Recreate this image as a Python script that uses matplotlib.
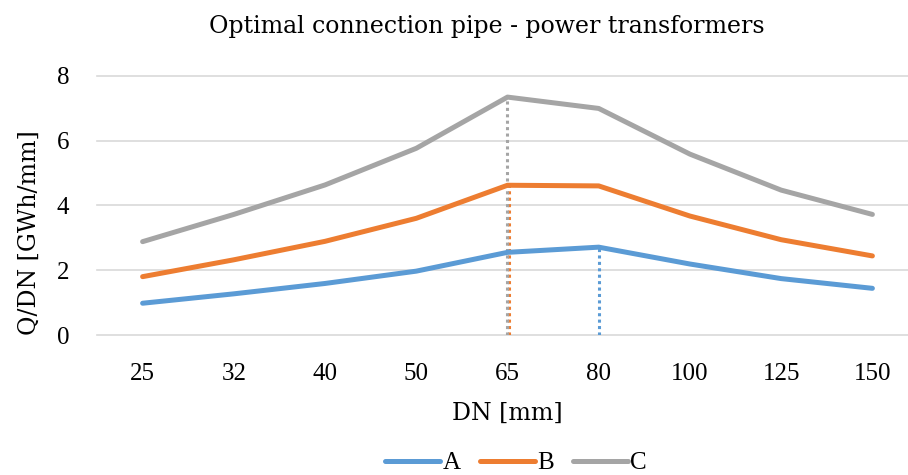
import matplotlib
matplotlib.use("Agg")
import matplotlib.pyplot as plt
import matplotlib.transforms as mtransforms
import numpy as np

categories = ["25", "32", "40", "50", "65", "80", "100", "125", "150"]
series_A = [0.98, 1.27, 1.59, 1.97, 2.55, 2.71, 2.19, 1.74, 1.44]
series_B = [1.80, 2.32, 2.89, 3.60, 4.62, 4.60, 3.67, 2.94, 2.44]
series_C = [2.88, 3.72, 4.63, 5.76, 7.34, 6.99, 5.58, 4.47, 3.72]
series_names = ["A", "B", "C"]
colors = ["#5B9BD5", "#ED7D31", "#A5A5A5"]

plt.rcParams['font.family'] = ['Liberation Serif', 'DejaVu Serif']
label_font = ['DejaVu Serif']

fig = plt.figure(figsize=(9.08, 4.75), dpi=100)
ax = fig.add_axes([97/908, (475-335)/475, (918-97)/908, (335-75.7)/475])

x = np.arange(len(categories))
all_series = [series_A, series_B, series_C]

for yv in [0, 2, 4, 6, 8]:
    ax.axhline(yv, color="#D9D9D9", lw=1.2, zorder=0, clip_on=False)

offsets_px = [0, 1.0, -1.0]
for s, c, off in zip(all_series, colors, offsets_px):
    idx = int(np.argmax(s))
    tr = ax.transData + mtransforms.ScaledTranslation(off/100, 0, fig.dpi_scale_trans)
    ax.plot([x[idx], x[idx]], [0, s[idx]], color=c, lw=2.2,
            linestyle=(0, (1, 1.1)), dash_capstyle='butt', transform=tr, zorder=2)

handles = []
for s, c, n in zip(all_series, colors, series_names):
    h, = ax.plot(x, s, color=c, lw=3.6, solid_capstyle='round',
                 solid_joinstyle='round', label=n, zorder=3)
    handles.append(h)

ax.set_xlim(-0.5, len(categories) - 0.5)
ax.set_ylim(0, 8)
ax.set_yticks([0, 2, 4, 6, 8])
ax.set_xticks(x)
ax.set_xticklabels(categories)
ax.tick_params(axis='both', length=0, labelsize=18, colors='black')
ax.tick_params(axis='x', pad=20)
ax.tick_params(axis='y', pad=20)
for lbl in ax.get_xticklabels() + ax.get_yticklabels():
    lbl.set_family('Liberation Serif')
for sp in ax.spines.values():
    sp.set_visible(False)

ax.set_xlabel("DN [mm]", fontsize=17, labelpad=12, family=label_font)
ax.set_ylabel("Q/DN [GWh/mm]", fontsize=17, family=label_font)
ax.yaxis.set_label_coords(-(97 - 41) / 821, (335 - 233) / 259.3)
fig.text(487/908, 1 - 26/475, "Optimal connection pipe - power transformers",
         ha='center', va='center', fontsize=17, family=label_font)

fig.legend(handles=handles, labels=series_names, loc='center',
           bbox_to_anchor=(516/908, 12/475), ncol=3, frameon=False, fontsize=18,
           handlelength=2.2, handletextpad=0.1, columnspacing=0.75,
           borderpad=0.0)

fig.savefig("out.png", dpi=100)
